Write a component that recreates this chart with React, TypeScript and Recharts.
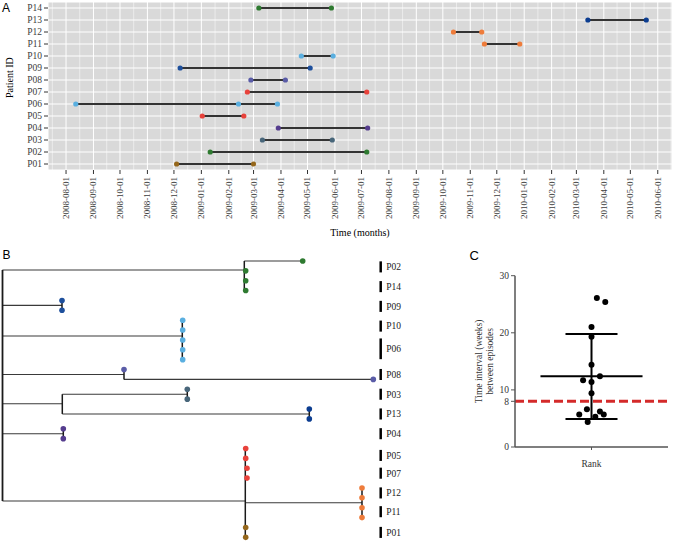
import React from 'react';
import {
  ScatterChart,
  Scatter,
  XAxis,
  YAxis,
  CartesianGrid,
  ReferenceLine,
  Label,
} from 'recharts';

const SERIF = '"Liberation Serif", "Times New Roman", serif';
const SANS = '"Liberation Sans", Arial, sans-serif';

// ---------- panel A : sampling dates per patient ----------
const patients = ['P01', 'P02', 'P03', 'P04', 'P05', 'P06', 'P07', 'P08', 'P09', 'P10', 'P11', 'P12', 'P13', 'P14'];
const episodeDates = [
  ['2008-12-04', '2009-03-01'],
  ['2009-01-11', '2009-07-07'],
  ['2009-03-11', '2009-05-29'],
  ['2009-03-29', '2009-07-08'],
  ['2009-01-02', '2009-02-18'],
  ['2008-08-12', '2009-02-12', '2009-03-28'],
  ['2009-02-22', '2009-07-07'],
  ['2009-02-26', '2009-04-06'],
  ['2008-12-08', '2009-05-04'],
  ['2009-04-24', '2009-05-30'],
  ['2009-11-17', '2009-12-27'],
  ['2009-10-13', '2009-11-14'],
  ['2010-03-14', '2010-05-19'],
  ['2009-03-07', '2009-05-28'],
];
const monthTicks = [
  '2008-08-01', '2008-09-01', '2008-10-01', '2008-11-01', '2008-12-01',
  '2009-01-01', '2009-02-01', '2009-03-01', '2009-04-01', '2009-05-01',
  '2009-06-01', '2009-07-01', '2009-08-01', '2009-09-01', '2009-10-01',
  '2009-11-01', '2009-12-01', '2010-01-01', '2010-02-01', '2010-03-01',
  '2010-04-01', '2010-05-01', '2010-06-01',
];

const patientColors: Record<string, string> = {
  P01: '#95671c',
  P02: '#2e7a30',
  P03: '#48667a',
  P04: '#553d8e',
  P05: '#e8423b',
  P06: '#5aafe0',
  P07: '#e8423b',
  P08: '#5a5ca7',
  P09: '#1d4f9c',
  P10: '#5aafe0',
  P11: '#ee7c3b',
  P12: '#ee7c3b',
  P13: '#0c3d90',
  P14: '#2e7a30',
};

// ---------- panel B : tree ----------
// tips: distance from root, tip slot (top to bottom), patient
const tipDist = [300.2, 243.2, 243.2, 243.2, 59.5, 59.5, 180.2, 180.2, 180.2, 180.2, 180.2, 121.5, 370.8, 184.8, 184.8, 306.8, 306.8, 60.8, 60.8, 243.2, 243.2, 244.5, 244.5, 359.5, 359.5, 359.5, 359.5, 243.2, 243.2];
const tipPatient = ['P02', 'P02', 'P14', 'P14', 'P09', 'P09', 'P10', 'P10', 'P06', 'P06', 'P06', 'P08', 'P08', 'P03', 'P03', 'P13', 'P13', 'P04', 'P04', 'P05', 'P05', 'P07', 'P07', 'P12', 'P12', 'P11', 'P11', 'P01', 'P01'];
// horizontal branches: [slot, fromDist, toDist]
const hBranches = [
  [0.91, 0, 241.8], [0, 241.8, 300.2],
  [4.5, 0, 59.5],
  [7.6, 0, 179.8],
  [11.5, 0, 121.5], [12, 121.5, 370.8],
  [14.46, 0, 59.8], [13.5, 59.8, 184.8], [15.5, 59.8, 306.8],
  [17.5, 0, 60.8],
  [24.32, 0, 242.8], [24.5, 242.8, 359.5],
];
// vertical links: [dist, fromSlot, toSlot]
const vBranches = [
  [0, 0.91, 24.32],
  [241.8, 0, 3], [59.5, 4, 5], [179.8, 6, 10], [121.5, 11, 12],
  [59.8, 13.5, 15.5], [184.8, 13, 14], [306.8, 15, 16], [60.8, 17, 18],
  [242.8, 19, 28], [359.5, 23, 26],
];
const treeLabels = ['P02', 'P14', 'P09', 'P10', 'P06', 'P08', 'P03', 'P13', 'P04', 'P05', 'P07', 'P12', 'P11', 'P01'];
const treeLabelSlot = [0.6, 2.6, 4.6, 6.6, 8.9, 11.5, 13.5, 15.5, 17.5, 19.7, 21.5, 23.5, 25.4, 27.5];
const treeLabelHalf = [0.56, 0.56, 0.56, 0.56, 1.05, 0.56, 0.56, 0.56, 0.56, 0.56, 0.56, 0.56, 0.56, 0.56];
const labelDist = 378.2;

// ---------- panel C : time interval between episodes ----------
const intervalWeeks = [26.1, 25.4, 21.0, 19.3, 14.4, 12.4, 11.7, 11.4, 9.4, 6.6, 5.7, 6.2, 5.7, 5.3, 4.4];
const intervalJitter = [0.07, 0.18, 0.0, 0.0, 0.0, 0.11, -0.11, 0.0, 0.0, -0.06, -0.16, 0.11, 0.16, 0.05, -0.05];
const meanWeeks = 12.4;
const sdLowWeeks = 4.9;
const sdHighWeeks = 19.8;
const thresholdWeeks = 8;

const DAY = 86400000;
const toDay = (s: string) => Date.parse(s + 'T00:00:00Z') / DAY;
const tickDays = monthTicks.map(toDay);
const minorDays = [
  tickDays[0] - 15.5,
  ...tickDays.slice(1).map((d, i) => (d + tickDays[i]) / 2),
  tickDays[tickDays.length - 1] + 15,
];
const xDomain = [tickDays[0] - 20.4, tickDays[tickDays.length - 1] + 16.1];

const MonthTick = ({ x, y, payload }: any) => {
  const yy = y + 1;
  return (
    <text
      x={x}
      y={yy}
      transform={`rotate(-90, ${x}, ${yy})`}
      textAnchor='end'
      dy='0.33em'
      fontSize={9}
      fontFamily={SERIF}
      fill='#3d3d3d'
    >
      {new Date(payload.value * DAY).toISOString().slice(0, 10)}
    </text>
  );
};

const dot = (color: string, r: number) => (p: any) => (
  <circle cx={p.cx} cy={p.cy} r={r} fill={color} />
);

const PanelA = () => (
  <div style={{ position: 'absolute', left: 0, top: 0 }}>
    <ScatterChart width={675} height={245} margin={{ top: 2, right: 3, bottom: 0, left: 0 }}>
      <CartesianGrid fill='#d9d9d9' stroke='#ffffff' strokeWidth={1} />
      {minorDays.map((d) => (
        <ReferenceLine key={d} x={d} stroke='#ffffff' strokeWidth={0.5} />
      ))}
      <XAxis
        type='number'
        dataKey='x'
        domain={xDomain}
        allowDataOverflow
        ticks={tickDays}
        interval={0}
        tick={<MonthTick />}
        tickSize={4}
        tickLine={{ stroke: '#333' }}
        axisLine={false}
        height={75}
      >
        <Label value='Time (months)' position='insideBottom' offset={9} fontSize={10} fontFamily={SERIF} fill='#000' />
      </XAxis>
      <YAxis
        type='number'
        dataKey='y'
        domain={[0.5, 14.5]}
        allowDataOverflow
        ticks={patients.map((_, i) => i + 1)}
        interval={0}
        tickFormatter={(v: number) => patients[v - 1]}
        width={48}
        tickSize={4}
        axisLine={false}
        tickLine={{ stroke: '#333' }}
        tick={{ fontSize: 9.5, fontFamily: SERIF, fill: '#3d3d3d' }}
      >
        <Label
          content={({ viewBox }: any) => {
            const cx = viewBox.x + 13.5;
            const cy = viewBox.y + viewBox.height * 0.45;
            return (
              <text x={cx} y={cy} transform={`rotate(-90, ${cx}, ${cy})`} textAnchor='middle' fontSize={10} fontFamily={SERIF} fill='#000'>
                Patient ID
              </text>
            );
          }}
        />
      </YAxis>
      {patients.map((p, i) => (
        <Scatter
          key={p}
          name={p}
          data={episodeDates[i].map((s) => ({ x: toDay(s), y: i + 1 }))}
          line={{ stroke: '#333', strokeWidth: 2 }}
          shape={dot(patientColors[p], 2.6)}
          isAnimationActive={false}
        />
      ))}
    </ScatterChart>
  </div>
);

const PanelB = () => (
  <div style={{ position: 'absolute', left: 0, top: 250 }}>
    <ScatterChart width={420} height={291} margin={{ top: 0, right: 0, bottom: 0, left: 0 }}>
      <XAxis type='number' dataKey='d' domain={[-2.5, 417.5]} allowDataOverflow hide />
      <YAxis type='number' dataKey='idx' domain={[-1.11, 28.37]} allowDataOverflow reversed hide />
      {hBranches.map(([s, a, b], i) => (
        <ReferenceLine key={'h' + i} segment={[{ x: a, y: s }, { x: b, y: s }]} stroke='#3a3a3a' strokeWidth={1.1} />
      ))}
      {vBranches.map(([d, a, b], i) => (
        <ReferenceLine key={'v' + i} segment={[{ x: d, y: a }, { x: d, y: b }]} stroke='#1a1a1a' strokeWidth={i === 0 ? 1.8 : 1.5} />
      ))}
      {treeLabels.map((p, i) => (
        <ReferenceLine
          key={'b' + p}
          segment={[{ x: labelDist, y: treeLabelSlot[i] - treeLabelHalf[i] }, { x: labelDist, y: treeLabelSlot[i] + treeLabelHalf[i] }]}
          stroke='#000'
          strokeWidth={2.5}
        />
      ))}
      <Scatter
        data={tipDist.map((d, i) => ({ d, idx: i, patient: tipPatient[i] }))}
        shape={(p: any) => <circle cx={p.cx} cy={p.cy} r={2.8} fill={patientColors[p.payload.patient]} />}
        isAnimationActive={false}
      />
      <Scatter
        data={treeLabels.map((name, i) => ({ d: labelDist, idx: treeLabelSlot[i], name }))}
        shape={(p: any) => (
          <text x={p.cx + 5.5} y={p.cy} dy='0.35em' fontSize={9.5} fontFamily={SERIF} fill='#222'>
            {p.payload.name}
          </text>
        )}
        isAnimationActive={false}
      />
    </ScatterChart>
  </div>
);

const PanelC = () => (
  <div style={{ position: 'absolute', left: 430, top: 265 }}>
    <ScatterChart width={245} height={215} margin={{ top: 10.7, right: 7, bottom: 0, left: 0 }}>
      <XAxis
        type='number'
        dataKey='x'
        domain={[-1, 1]}
        allowDataOverflow
        ticks={[0]}
        tickFormatter={() => 'Rank'}
        height={33}
        tickSize={3}
        tickMargin={10}
        axisLine={{ stroke: '#555', strokeWidth: 1.5 }}
        tickLine={{ stroke: '#555' }}
        tick={{ fontSize: 9.5, fontFamily: SERIF, fill: '#333' }}
      />
      <YAxis
        type='number'
        dataKey='w'
        domain={[0, 30]}
        allowDataOverflow
        ticks={[0, 8, 10, 20, 30]}
        interval={0}
        width={85}
        tickSize={4}
        tickMargin={2}
        axisLine={{ stroke: '#555', strokeWidth: 1.5 }}
        tickLine={{ stroke: '#555' }}
        tick={{ fontSize: 9.5, fontFamily: SERIF, fill: '#333' }}
      >
        <Label
          content={({ viewBox }: any) => {
            const cx = viewBox.x + 54;
            const cy = viewBox.y + viewBox.height / 2;
            return (
              <text x={cx} y={cy} transform={`rotate(-90, ${cx}, ${cy})`} textAnchor='middle' fontSize={9.5} fontFamily={SERIF} fill='#333'>
                <tspan x={cx} dy='-0.2em'>Time interval (weeks)</tspan>
                <tspan x={cx} dy='1.1em'>between episodes</tspan>
              </text>
            );
          }}
        />
      </YAxis>
      <ReferenceLine y={thresholdWeeks} stroke='#d42a2a' strokeWidth={3} strokeDasharray='9 4' />
      <ReferenceLine segment={[{ x: -0.667, y: meanWeeks }, { x: 0.667, y: meanWeeks }]} stroke='#000' strokeWidth={2} />
      <ReferenceLine segment={[{ x: -0.34, y: sdHighWeeks }, { x: 0.34, y: sdHighWeeks }]} stroke='#000' strokeWidth={2} />
      <ReferenceLine segment={[{ x: -0.34, y: sdLowWeeks }, { x: 0.34, y: sdLowWeeks }]} stroke='#000' strokeWidth={2} />
      <ReferenceLine segment={[{ x: 0, y: sdLowWeeks }, { x: 0, y: sdHighWeeks }]} stroke='#000' strokeWidth={2} />
      <Scatter
        data={intervalWeeks.map((w, i) => ({ x: intervalJitter[i], w }))}
        shape={dot('#000', 3)}
        isAnimationActive={false}
      />
    </ScatterChart>
  </div>
);

export default function App() {
  return (
    <div style={{ position: 'absolute', left: 0, top: 0, width: 675, height: 541, overflow: 'hidden', background: '#fff' }}>
      <PanelA />
      <PanelB />
      <PanelC />
      <svg width={675} height={541} style={{ position: 'absolute', left: 0, top: 0, pointerEvents: 'none' }}>
        <text x={2} y={11.5} fontSize={12} fontFamily={SANS} fill='#000'>A</text>
        <text x={2.5} y={258.5} fontSize={12} fontFamily={SANS} fill='#000'>B</text>
        <text x={469.5} y={260} fontSize={13} fontFamily={SANS} fill='#000'>C</text>
      </svg>
    </div>
  );
}
